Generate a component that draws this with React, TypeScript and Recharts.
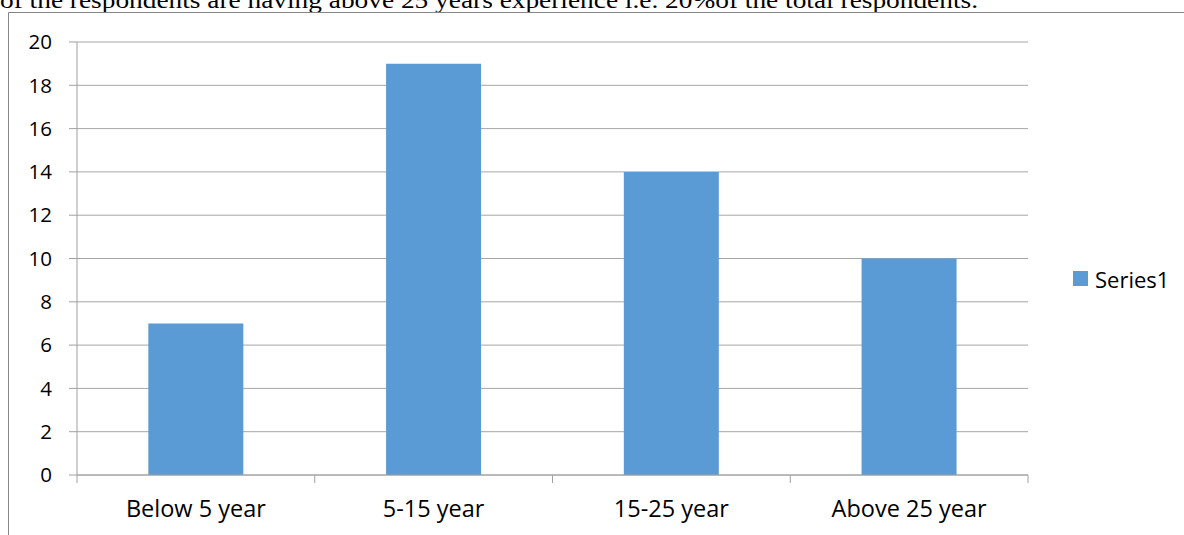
import { Bar, BarChart, CartesianGrid, XAxis, YAxis } from 'recharts';

const categories = ['Below 5 year', '5-15 year', '15-25 year', 'Above 25 year'];
const series1 = [7, 19, 14, 10];
const seriesName = 'Series1';
const yTicks = [0, 2, 4, 6, 8, 10, 12, 14, 16, 18, 20];
const caption = 'of the respondents are having above 25 years experience i.e. 20%of the total respondents.';

const data = categories.map((name, i) => ({ name, [seriesName]: series1[i] }));

const W = 1184;
const H = 535;
const M = { top: 42, right: 156, bottom: 30, left: 0 };
const Y_AXIS_W = 77;
const band = (W - M.left - M.right - Y_AXIS_W) / categories.length;
const font = '"Open Sans", sans-serif';
const BLUE = '#5b9bd5';
const AXIS = '#a0a0a0';

// label + the little tick marks between categories (Excel style)
function CatTick(props: any) {
    const { x, y, payload, index } = props;
    const left = x - band / 2;
    const right = x + band / 2;
    return (
        <g>
            <line x1={left} x2={left} y1={y - 8} y2={y} stroke={AXIS} />
            {index === categories.length - 1 && (
                <line x1={right} x2={right} y1={y - 8} y2={y} stroke={AXIS} />
            )}
            <text x={x} y={y + 34} textAnchor="middle" fill="#000" fontSize={23.5} fontFamily={font}>
                {payload.value}
            </text>
        </g>
    );
}

export default function App() {
    return (
        <div style={{ position: 'absolute', left: 0, top: 0, width: W, height: H, background: '#fff', overflow: 'hidden' }}>
            <svg width={W} height={H} style={{ position: 'absolute', left: 0, top: 0 }}>
                <text
                    x={0}
                    y={8}
                    fontFamily='"Liberation Serif", serif'
                    fontSize={24}
                    textLength={978}
                    lengthAdjust="spacingAndGlyphs"
                    fill="#000"
                >
                    {caption}
                </text>
                <line x1={8.5} x2={W} y1={12.5} y2={12.5} stroke="#868686" />
                <line x1={8.5} x2={8.5} y1={12.5} y2={H} stroke="#868686" />
            </svg>
            <div style={{ position: 'absolute', left: 0, top: 0 }}>
                <BarChart width={W} height={H} data={data} margin={M} barCategoryGap="30%">
                    <CartesianGrid vertical={false} stroke="#a6a6a6" />
                    <XAxis
                        dataKey="name"
                        axisLine={{ stroke: AXIS }}
                        tickLine={false}
                        tick={<CatTick />}
                        interval={0}
                        height={30}
                    />
                    <YAxis
                        width={Y_AXIS_W}
                        domain={[0, 20]}
                        ticks={yTicks}
                        axisLine={{ stroke: AXIS }}
                        tickLine={{ stroke: AXIS }}
                        tickSize={8}
                        tickMargin={17}
                        tick={{ fill: '#000', fontSize: 20.5, fontFamily: font }}
                    />
                    <Bar dataKey={seriesName} fill={BLUE} isAnimationActive={false} />
                </BarChart>
            </div>
            <div
                style={{
                    position: 'absolute',
                    left: 1073,
                    top: 265.5,
                    display: 'flex',
                    alignItems: 'center',
                    fontFamily: font,
                    fontSize: 22,
                    lineHeight: '26px',
                }}
            >
                <span style={{ width: 15, height: 15, background: BLUE, display: 'inline-block', marginRight: 7 }} />
                {seriesName}
            </div>
        </div>
    );
}
